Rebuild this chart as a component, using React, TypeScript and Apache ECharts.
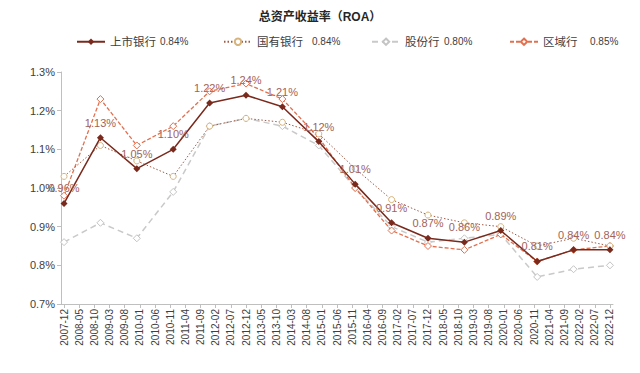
import React, { useEffect, useRef } from "react";
import * as echarts from "echarts";

const years = ["2007","2008","2009","2010","2011","2012","2013","2014","2015","2016","2017","2018","2019","2020","2021","2022"];
const listed = [0.96, 1.13, 1.05, 1.10, 1.22, 1.24, 1.21, 1.12, 1.01, 0.91, 0.87, 0.86, 0.89, 0.81, 0.84, 0.84];
const stateOwned = [1.03, 1.11, 1.07, 1.03, 1.16, 1.18, 1.17, 1.14, 1.05, 0.97, 0.93, 0.91, 0.90, 0.85, 0.87, 0.85];
const joint = [0.86, 0.91, 0.87, 0.99, 1.16, 1.18, 1.16, 1.11, 1.00, 0.90, 0.86, 0.87, 0.88, 0.77, 0.79, 0.80];
const regional = [0.98, 1.23, 1.11, 1.16, 1.25, 1.27, 1.23, 1.13, 1.00, 0.89, 0.85, 0.84, 0.88, 0.81, 0.84, 0.85];
const seriesNames = ["上市银行", "国有银行", "股份行", "区域行"];
const legendValues = ["0.84%", "0.84%", "0.80%", "0.85%"];
const title = "总资产收益率（ROA）";

// month categories from 2007-11 to 2023-01
const months: string[] = [];
for (let y = 2007; y <= 2023; y++) {
  for (let m = 1; m <= 12; m++) {
    const idx = (y - 2007) * 12 + m;
    if (idx >= 11 && idx <= 12 * 16 + 1) months.push(`${y}-${String(m).padStart(2, "0")}`);
  }
}
const showLabel = (i: number) => i >= 1 && i <= 181 && (i - 1) % 5 === 0;
const toPairs = (vals: number[]) => vals.map((v, k) => [years[k] + "-12", v]);

export default function App() {
  const ref = useRef<HTMLDivElement>(null);
  useEffect(() => {
    document.body.style.margin = "0";
    const chart = echarts.init(ref.current!, undefined, { renderer: "svg" });
    const font = "Arial, 'Liberation Sans', 'Noto Sans CJK SC', sans-serif";
    const legendPos = [
      { left: 71, nw: 50 },
      { left: 218, nw: 55 },
      { left: 366, nw: 39 },
      { left: 504, nw: 47 },
    ];
    chart.setOption({
      animation: false,
      textStyle: { fontFamily: font },
      title: {
        text: title,
        left: "center",
        top: 6,
        textStyle: { fontSize: 12, fontWeight: "bold", color: "#262626", fontFamily: font },
      },
      legend: legendPos.map((p, i) => ({
        data: [seriesNames[i]],
        left: p.left,
        top: 31,
        itemWidth: 28,
        itemHeight: 8,
        formatter: (name: string) => `{n|${name}}{v|${legendValues[i]}}`,
        textStyle: {
          rich: {
            n: { fontSize: 11.5, color: "#404040", width: p.nw, fontFamily: font },
            v: { fontSize: 10, color: "#404040", fontFamily: font },
          },
        },
      })),
      grid: { left: 61, top: 72, bottom: 69, right: 27, containLabel: false },
      xAxis: {
        type: "category",
        data: months,
        boundaryGap: false,
        axisLine: { lineStyle: { color: "#BFBFBF", width: 1 } },
        axisTick: { interval: (i: number) => showLabel(i), length: 4, lineStyle: { color: "#BFBFBF" } },
        axisLabel: {
          interval: (i: number) => showLabel(i),
          rotate: 90,
          fontSize: 10,
          color: "#404040",
          margin: 5,
        },
      },
      yAxis: {
        type: "value",
        min: 0.7,
        max: 1.3,
        interval: 0.1,
        splitLine: { show: false },
        axisLine: { show: true, lineStyle: { color: "#BFBFBF" } },
        axisTick: { show: true, length: 4, lineStyle: { color: "#BFBFBF" } },
        axisLabel: { formatter: (v: number) => v.toFixed(1) + "%", fontSize: 11, color: "#404040", margin: 6 },
      },
      series: [
        {
          name: seriesNames[3],
          type: "line",
          data: toPairs(regional),
          showAllSymbol: true,
          symbol: "diamond",
          symbolSize: 7,
          lineStyle: { color: "#E2704F", width: 1.3, type: [4, 2] },
          itemStyle: { color: "#fff", borderColor: "#E2704F", borderWidth: 1 },
          z: 2,
        },
        {
          name: seriesNames[2],
          type: "line",
          data: toPairs(joint),
          showAllSymbol: true,
          symbol: "diamond",
          symbolSize: 7,
          lineStyle: { color: "#C9C9C9", width: 1.5, type: [6, 4] },
          itemStyle: { color: "#fff", borderColor: "#C4C4C4", borderWidth: 1 },
          z: 1,
        },
        {
          name: seriesNames[1],
          type: "line",
          data: toPairs(stateOwned),
          showAllSymbol: true,
          symbol: "circle",
          symbolSize: 6,
          lineStyle: { color: "#A05A44", width: 1, type: [1.5, 2] },
          itemStyle: { color: "#fff", borderColor: "#D6B47C", borderWidth: 1 },
          z: 3,
        },
        {
          name: seriesNames[0],
          type: "line",
          data: toPairs(listed),
          showAllSymbol: true,
          symbol: "diamond",
          symbolSize: 7,
          lineStyle: { color: "#7A2A1C", width: 1.5 },
          itemStyle: { color: "#7A2A1C" },
          label: {
            show: true,
            position: "top",
            distance: 6,
            fontSize: 11,
            color: "#A2625A",
            formatter: (p: any) => Number(p.value[1]).toFixed(2) + "%",
          },
          z: 4,
        },
      ],
    });
    return () => chart.dispose();
  }, []);
  return <div ref={ref} style={{ width: 640, height: 373 }} />;
}
